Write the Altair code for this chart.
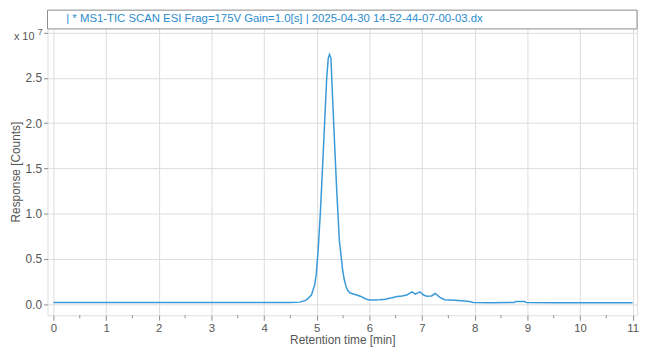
import altair as alt
import pandas as pd

# Retention time [min] and response [x 1e7 counts]
time_min = [0.0, 1.0, 2.0, 3.0, 4.0, 4.5, 4.68, 4.80, 4.90, 4.96, 4.99, 5.03, 5.07, 5.11,
            5.15, 5.19, 5.22, 5.243, 5.27, 5.30, 5.34, 5.38, 5.43, 5.46, 5.49, 5.52,
            5.56, 5.59, 5.63, 5.68, 5.76, 5.84, 5.92, 6.0, 6.11, 6.2, 6.30, 6.43,
            6.53, 6.62, 6.71, 6.81, 6.87, 6.96, 7.03, 7.09, 7.18, 7.25, 7.34, 7.43,
            7.62, 7.81, 7.90, 7.97, 8.3, 8.75, 8.78, 8.95, 8.98, 9.5, 10.0, 10.5, 11.0]
response_e7 = [0.018, 0.018, 0.018, 0.018, 0.018, 0.019, 0.022, 0.044, 0.10, 0.21, 0.32, 0.62, 1.02, 1.50,
               2.00, 2.50, 2.72, 2.76, 2.72, 2.30, 1.77, 1.26, 0.70, 0.55, 0.39, 0.28,
               0.19, 0.15, 0.125, 0.115, 0.10, 0.085, 0.06, 0.046, 0.046, 0.048, 0.055, 0.07,
               0.085, 0.09, 0.10, 0.135, 0.11, 0.135, 0.10, 0.088, 0.09, 0.117, 0.075, 0.048,
               0.042, 0.035, 0.028, 0.018, 0.016, 0.017, 0.028, 0.028, 0.017, 0.016, 0.016, 0.016, 0.016]

x_ticks = list(range(0, 12))
x_minor = [i + 0.5 for i in range(0, 11)]
y_ticks = [0.0, 0.5, 1.0, 1.5, 2.0, 2.5, 3.0]

title_text = "| * MS1-TIC SCAN ESI Frag=175V Gain=1.0[s] | 2025-04-30 14-52-44-07-00-03.dx"

df = pd.DataFrame({"t": time_min, "r": response_e7})
minor_df = pd.DataFrame({"t": x_minor})

W, H = 597, 309
line_color = "#3a9ad9"
text_gray = "#555555"

xscale = alt.Scale(domain=[-0.1125, 11.084], nice=False, zero=False)
yscale = alt.Scale(domain=[-0.1234, 3.25], nice=False, zero=False)

line = alt.Chart(df).mark_line(color=line_color, strokeWidth=1.5).encode(
    x=alt.X("t:Q", scale=xscale,
            axis=alt.Axis(values=x_ticks, title="Retention time [min]", grid=True,
                          gridColor="#dcdcdc", tickColor="#8c8c8c", tickSize=5,
                          labelFontSize=11.5, labelColor=text_gray, labelPadding=2,
                          titleFontSize=12, titleColor=text_gray, titleFontWeight="normal",
                          titlePadding=1, domain=False, labelFont="Liberation Sans",
                          titleFont="Liberation Sans")),
    y=alt.Y("r:Q", scale=yscale,
            axis=alt.Axis(values=y_ticks, title=None, grid=True, gridColor="#dcdcdc",
                          tickColor="#8c8c8c", tickSize=4, labelFontSize=12,
                          labelColor=text_gray, labelPadding=2, domain=False,
                          labelFont="Liberation Sans",
                          labelExpr="datum.value >= 3 ? '' : format(datum.value, '.1f')")),
)

minor = alt.Chart(minor_df).mark_rule(color="#8c8c8c", strokeWidth=1).encode(
    x=alt.X("t:Q", scale=xscale),
    y=alt.value(H),
    y2=alt.value(H + 3),
)

title_box = alt.Chart(pd.DataFrame({"a": [0]})).mark_rect(
    fill="white", stroke="#8c8c8c", strokeWidth=1
).encode(x=alt.value(0), x2=alt.value(W), y=alt.value(0), y2=alt.value(19))

title = alt.Chart(pd.DataFrame({"s": [title_text]})).mark_text(
    align="left", baseline="middle", fontSize=11.5, color="#2b8ccd", font="Liberation Sans"
).encode(x=alt.value(19), y=alt.value(9.5), text="s:N")

exp_base = alt.Chart(pd.DataFrame({"s": ["x 10"]})).mark_text(
    align="left", baseline="middle", fontSize=11, color=text_gray, font="Liberation Sans"
).encode(x=alt.value(-34), y=alt.value(27), text="s:N")

exp_sup = alt.Chart(pd.DataFrame({"s": ["7"]})).mark_text(
    align="left", baseline="middle", fontSize=9, color=text_gray, font="Liberation Sans"
).encode(x=alt.value(-10), y=alt.value(22), text="s:N")

ytitle = alt.Chart(pd.DataFrame({"s": ["Response [Counts]"]})).mark_text(
    align="center", baseline="middle", fontSize=12, color=text_gray, angle=270,
    font="Liberation Sans"
).encode(x=alt.value(-32), y=alt.value(164), text="s:N")

chart = alt.layer(line, minor, title_box, title, exp_base, exp_sup, ytitle).properties(
    width=W, height=H,
    autosize=alt.AutoSizeParams(type="none"),
    padding={"left": 40, "top": 0, "right": 5, "bottom": 33},
).configure_view(stroke="#8c8c8c", strokeWidth=1).configure(background="white")

chart.save("out.html", embed_options={"renderer": "svg", "actions": False})
